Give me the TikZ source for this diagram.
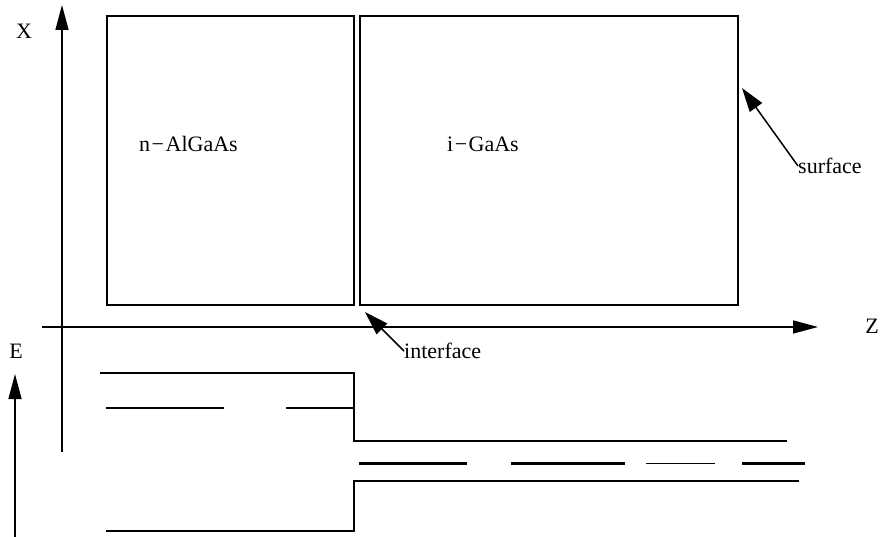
\documentclass[tikz,border=0pt]{standalone}
\usepackage{fontspec}
\setmainfont{Liberation Serif}
\usetikzlibrary{arrows.meta}
\newcommand{\mydash}{\kern1.5pt−\kern1.5pt}
\begin{document}
\begin{tikzpicture}[x={(1pt,0)},y={(0,-1pt)},
  lbl/.style={inner sep=0pt,font=\fontsize{22}{26}\selectfont},
  layer/.style={draw,line width=1.3pt},
  axis/.style={line width=1.5pt,-{Triangle[length=25pt,width=13pt]}},
  pointer/.style={line width=1.5pt,-{Triangle[length=24pt,width=15pt]}},
  band/.style={line width=2.3pt}]
\useasboundingbox (0,0) rectangle (886,537);
% axes
\coordinate (xb) at (62,452);
\coordinate (xt) at (62,5);
\draw[axis] (xb) -- (xt);
\coordinate (zl) at (42,327);
\coordinate (zr) at (818,327);
\draw[axis] (zl) -- (zr);
\coordinate (eb) at (15,537);
\coordinate (et) at (15,374);
\draw[axis] (eb) -- (et);
\node[lbl] (X) at (24,31) {X};
\node[lbl] (Z) at (872,326) {Z};
\node[lbl] (E) at (16,351) {E};
% layers
\draw[layer] (107,16) rectangle (354,305);
\draw[layer] (360,16) rectangle (738,305);
\node[lbl] (nal) at (188.5,144) {n\mydash AlGaAs};
\node[lbl] (iga) at (483,144) {i\mydash GaAs};
% pointers
\node[lbl,anchor=west] (surf) at (798,166) {surface};
\coordinate (surft) at (742,88);
\draw[pointer] (surf.west) -- (surft);
\node[lbl,anchor=west] (intf) at (404,351) {interface};
\coordinate (intft) at (365,312);
\draw[pointer] (intf.west) -- (intft);
% bands
\coordinate (c1) at (100,373);
\coordinate (c2) at (354,373);
\coordinate (c3) at (354,441);
\coordinate (c4) at (787,441);
\draw[band] (c1) -- (c2) -- (c3) -- (c4);
\coordinate (v1) at (106,531);
\coordinate (v2) at (354,531);
\coordinate (v3) at (354,481);
\coordinate (v4) at (799,481);
\draw[band] (v1) -- (v2) -- (v3) -- (v4);
\coordinate (f1a) at (106,408); \coordinate (f1b) at (224,408);
\coordinate (f2a) at (286,408); \coordinate (f2b) at (354,408);
\draw[band] (f1a) -- (f1b);
\draw[band] (f2a) -- (f2b);
\coordinate (g1a) at (359,463.5); \coordinate (g1b) at (467,463.5);
\coordinate (g2a) at (511,463.5); \coordinate (g2b) at (625,463.5);
\coordinate (g3a) at (646,463.5); \coordinate (g3b) at (715,463.5);
\coordinate (g4a) at (742,463.5); \coordinate (g4b) at (805,463.5);
\draw[band,line width=3pt] (g1a) -- (g1b);
\draw[band,line width=3pt] (g2a) -- (g2b);
\draw[band,line width=1.6pt] (g3a) -- (g3b);
\draw[band,line width=3pt] (g4a) -- (g4b);
\end{tikzpicture}
\end{document}
